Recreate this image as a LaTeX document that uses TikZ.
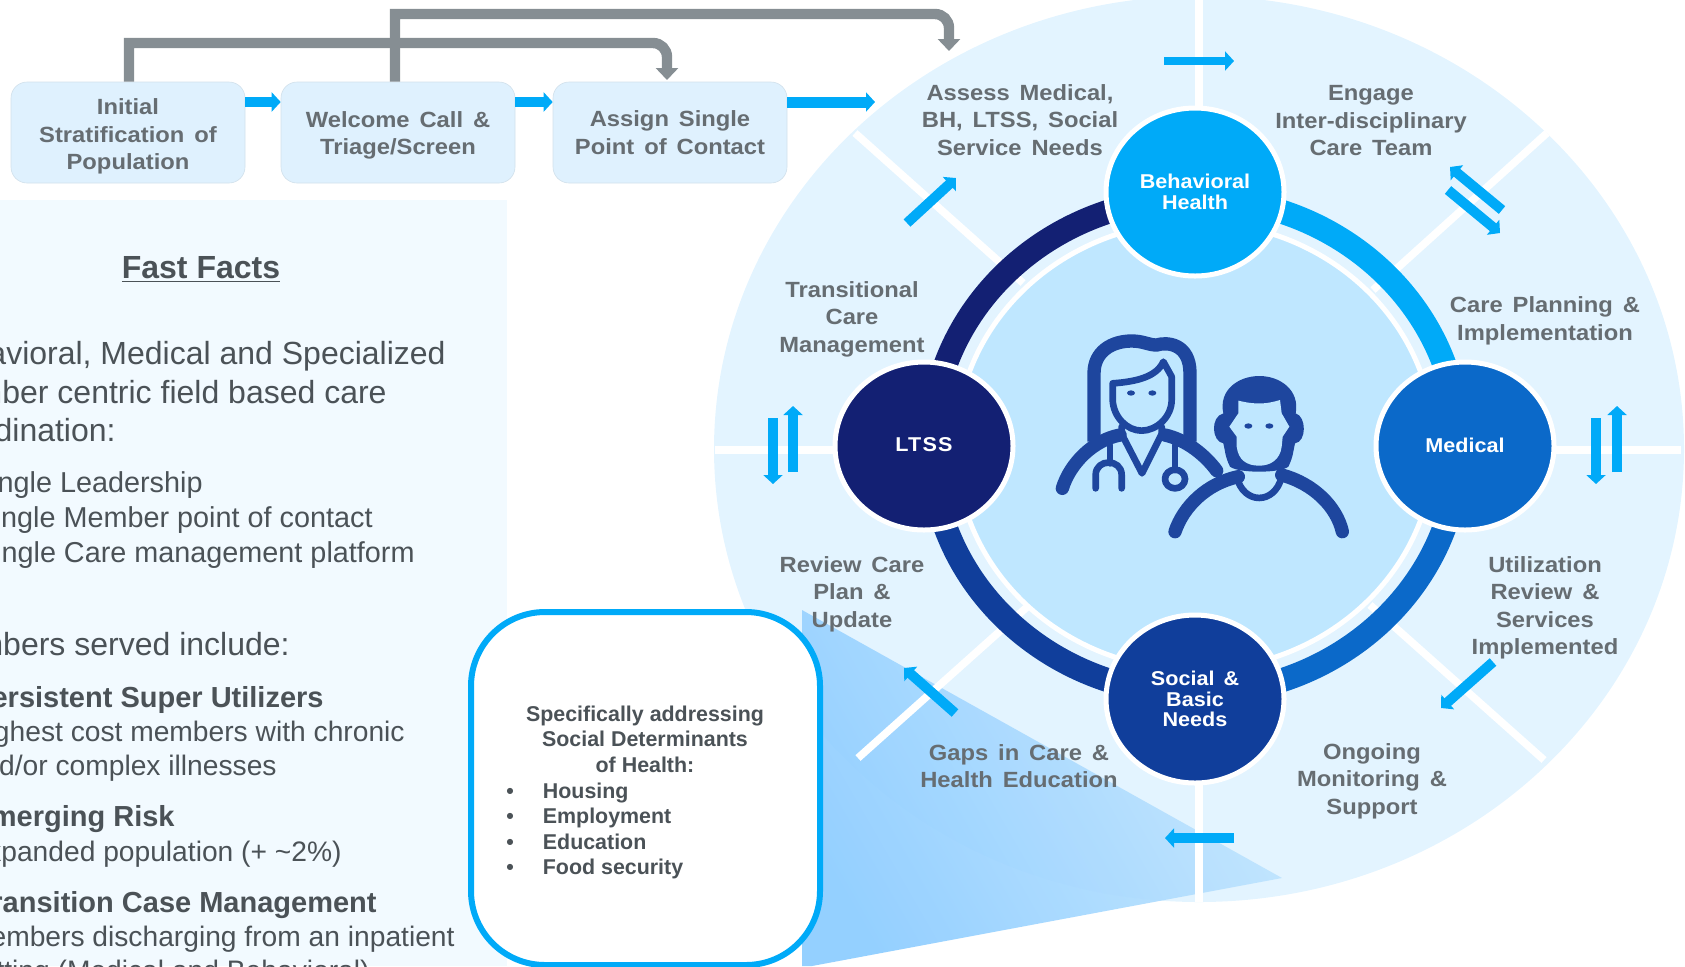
\documentclass[tikz,border=0pt]{standalone}
\usepackage{fontspec}
\setmainfont{Liberation Sans}
\newfontfamily\labfont[FakeStretch=1.08,WordSpace=1.5]{Liberation Sans}
\usetikzlibrary{shapes.geometric,arrows.meta}
\definecolor{sky}{HTML}{00AAF8}
\definecolor{pale}{HTML}{E3F4FF}
\definecolor{discblue}{HTML}{BFE7FF}
\definecolor{panelbg}{HTML}{F2FAFF}
\definecolor{flowbg}{HTML}{DFF1FE}
\definecolor{greyline}{HTML}{868E93}
\definecolor{labgrey}{HTML}{666D72}
\definecolor{bodygrey}{HTML}{4B5257}
\definecolor{navyc}{HTML}{132073}
\definecolor{royalc}{HTML}{103E9B}
\definecolor{medc}{HTML}{0B69C9}
\definecolor{iconc}{HTML}{1E469E}
\definecolor{wedgea}{HTML}{8CCCFF}
\definecolor{wedgeb}{HTML}{C6E7FE}
\tikzset{
  hub/.style={ellipse,draw=white,line width=2.5pt,minimum width=89pt,minimum height=84pt,inner sep=0pt,text=white,align=center,font=\labfont\bfseries\fontsize{10}{10.4}\selectfont},
  flowbox/.style={rectangle,rounded corners=8pt,fill=flowbg,draw=flowbg!85!gray,line width=.3pt,minimum width=117pt,minimum height=50.5pt,inner sep=0pt},
  lab/.style={align=center,inner sep=0pt,text=labgrey,font=\labfont\bfseries\fontsize{11}{13.75}\selectfont},
  spoke/.style={draw=white,line width=3.8pt},
  ringarc/.style={line width=12pt},
  blu/.style={draw=sky,line width=#1,-{Triangle[width=9.5pt,length=4.5pt]}},
  blu/.default=5pt,
  greyarrow/.style={draw=greyline,line width=5.2pt,-{Triangle[width=11pt,length=6pt]}},
  bigtxt/.style={anchor=base east,inner sep=0pt,text=bodygrey,font=\fontsize{16}{16}\selectfont},
  smalltxt/.style={anchor=base east,inner sep=0pt,text=bodygrey,font=\fontsize{14.1}{14.1}\selectfont},
  strongtxt/.style={anchor=base east,inner sep=0pt,text=bodygrey,font=\bfseries\fontsize{14.5}{14.5}\selectfont},
  notetxt/.style={inner sep=0pt,text=bodygrey,font=\bfseries\fontsize{10.7}{10.7}\selectfont},
  ic/.style={draw=iconc,line width=6.67pt,line cap=round,line join=round},
  icthin/.style={draw=iconc,line width=3.33pt,line cap=round,line join=round},
}
\begin{document}
\begin{tikzpicture}[x=0.5pt,y=-0.5pt]
\useasboundingbox (0,0) rectangle (1685,966);
% left panel
\fill[panelbg] (0,200) rectangle (507,966);
\node[anchor=base,inner sep=0pt,text=bodygrey,font=\bfseries\fontsize{16}{16}\selectfont] (title) at (201,278) {\underline{Fast Facts}};
\node[bigtxt] (t1) at (446,364) {avioral, Medical and Specialized};
\node[bigtxt] (t2) at (387,403) {mber centric field based care};
\node[bigtxt] (t3) at (116,441) {dination:};
\node[smalltxt,font=\fontsize{14.4}{14.4}\selectfont] (t4) at (203,492) {ngle Leadership};
\node[smalltxt,font=\fontsize{14.4}{14.4}\selectfont] (t5) at (373,527) {ngle Member point of contact};
\node[smalltxt,font=\fontsize{14.4}{14.4}\selectfont] (t6) at (415,562) {ngle Care management platform};
\node[bigtxt] (t7) at (290,655) {mbers served include:};
\node[strongtxt] (t8) at (324,707) {ersistent Super Utilizers};
\node[smalltxt] (t9) at (405,741) {ghest cost members with chronic};
\node[smalltxt] (t10) at (277,775) {d/or complex illnesses};
\node[strongtxt] (t11) at (175,826) {merging Risk};
\node[smalltxt] (t12) at (342,861) {xpanded population (+ \textasciitilde 2\%)};
\node[strongtxt] (t13) at (377,912) {ransition Case Management};
\node[smalltxt] (t14) at (455,946) {embers discharging from an inpatient};
\node[smalltxt] (t15) at (370,980) {etting (Medical and Behavioral)};
% wheel
\coordinate (wc) at (1199,449);
\coordinate (rc) at (1195,446);
\fill[pale] (wc) ellipse [x radius=485,y radius=453];
% callout wedge
\begin{scope}
\clip (802,610) -- (1282,878) -- (812,966) -- (802,966) -- cycle;
\shade[left color=wedgea,right color=wedgeb,shading angle=120,fill opacity=.93] (790,600) rectangle (1290,970);
\end{scope}
% spokes
\draw[spoke] (1199,-5) -- (1199,130);
\draw[spoke] (1199,760) -- (1199,902);
\draw[spoke] (715,450) -- (850,450);
\draw[spoke] (1540,450) -- (1681,450);
\draw[spoke] (855,133) -- (1023,283);
\draw[spoke] (1547,133) -- (1373,290);
\draw[spoke] (858,758) -- (1027,607);
\draw[spoke] (1544,760) -- (1370,605);
% inner disc
\draw[white,line width=2.5pt,fill=discblue] (rc) ellipse [x radius=239,y radius=224];
% ring arcs
\draw[ringarc,navyc] (931,446) arc [start angle=180,delta angle=90,x radius=264,y radius=248];
\draw[ringarc,sky] (1195,198) arc [start angle=270,delta angle=90,x radius=264,y radius=248];
\draw[ringarc,medc] (1459,446) arc [start angle=0,delta angle=90,x radius=264,y radius=248];
\draw[ringarc,royalc] (1195,694) arc [start angle=90,delta angle=90,x radius=264,y radius=248];
% hubs
\node[hub,fill=sky] (bh) at (1195,192) {Behavioral\\Health};
\node[hub,fill=medc] (med) at (1465,446) {\raisebox{1pt}{Medical}};
\node[hub,fill=navyc,font=\labfont\bfseries\addfontfeature{LetterSpace=6}\fontsize{10}{10.4}\selectfont] (ltss) at (924,446) {\raisebox{1pt}{LTSS}};
\node[hub,fill=royalc] (soc) at (1195,699) {Social \&\\Basic\\Needs};
% labels
\node[lab] (l1) at (1020,120) {Assess Medical,\\BH, LTSS, Social\\Service Needs};
\node[lab] (l2) at (1371,121) {Engage\\Inter-disciplinary\\Care Team};
\node[lab] (l3) at (1545,321) {Care Planning \&\\Implementation};
\node[lab] (l4) at (1545,608) {Utilization\\Review \&\\Services\\Implemented};
\node[lab] (l5) at (1372,781) {Ongoing\\Monitoring \&\\Support};
\node[lab] (l6) at (1019,766) {Gaps in Care \&\\Health Education};
\node[lab] (l7) at (852,594) {Review Care\\Plan \&\\Update};
\node[lab] (l8) at (852,319) {Transitional\\Care\\Management};
% wheel arrows
\draw[blu=4pt] (1164,61) -- (1234,61);
\draw[blu=5pt] (1234,838) -- (1165,838);
\draw[blu=5pt] (907,223) -- (956,178);
\draw[blu=5pt] (1502,210) -- (1450,167);
\draw[blu=5pt] (1448,190) -- (1500,233);
\draw[blu=5pt] (1596,418) -- (1596,484);
\draw[blu=5pt] (1617,472) -- (1617,406);
\draw[blu=5pt] (773,418) -- (773,484);
\draw[blu=5pt] (793,472) -- (793,406);
\draw[blu=5pt] (1493,662) -- (1441,708);
\draw[blu=5pt] (955,713) -- (904,668);
% flow boxes
\node[flowbox] (b1) at (128,132.5) {};
\node[flowbox] (b2) at (398,132.5) {};
\node[flowbox] (b3) at (670,132.5) {};
\node[lab] (b1t) at (128,136.5) {Initial\\Stratification of\\Population};
\node[lab] (b2t) at (398,135.5) {Welcome Call \&\\Triage/Screen};
\node[lab] (b3t) at (670,132.5) {Assign Single\\Point of Contact};
\coordinate (flowy) at (0,102);
\coordinate (flowend) at (875,102);
\draw[blu=5pt] (b1.east |- flowy) -- (b2.west |- flowy);
\draw[blu=5pt] (b2.east |- flowy) -- (b3.west |- flowy);
\draw[blu=5.5pt] (b3.east |- flowy) -- (flowend);
% grey connectors
\coordinate (g1) at (129,43);
\coordinate (g2) at (395,14);
\coordinate (g3) at (949,14);
\coordinate (g4) at (949,51);
\coordinate (g5) at (667,80);
\draw[greyarrow,rounded corners=0pt] (g1 |- b1.north) -- (g1) -- (640,43) [rounded corners=7pt] -- (g5 |- g1) -- (g5);
\draw[greyarrow,rounded corners=0pt] (g2 |- b2.north) -- (g2) -- (920,14) [rounded corners=7pt] -- (g3) -- (g4);
% callout box
\node[draw=sky,line width=3pt,fill=white,rounded corners=37pt,minimum width=174.5pt,minimum height=176.5pt,inner sep=0pt] (note) at (645.5,788.5) {};
\node[notetxt,anchor=base] (n1) at (645,721) {Specifically addressing};
\node[notetxt,anchor=base] (n2) at (645,746) {Social Determinants};
\node[notetxt,anchor=base] (n3) at (645,772) {of Health:};
\foreach \yy/\itemtxt in {798/Housing,823/Employment,849/Education,874/Food security}{
  \node[notetxt,anchor=base] at (510,\yy) {•};
  \node[notetxt,anchor=base west] at (542.5,\yy) {\itemtxt};
}
% icon
\begin{scope}[shift={(1030,310)},x=0.16667pt,y=-0.16667pt]
  % doctor
  \draw[ic,line cap=butt] (192,395) -- (192,190) .. controls (192,125) and (245,93) .. (305,93) .. controls (340,93) and (355,105) .. (380,105) .. controls (410,95) and (480,100) .. (480,190) -- (480,395);
  \draw[ic] (97,535) .. controls (120,460) and (190,390) .. (270,375);
  \draw[ic] (405,375) .. controls (470,390) and (525,435) .. (560,482);
  \draw[icthin] (248,220) -- (248,270) .. controls (250,320) and (290,362) .. (335,362) .. controls (380,362) and (425,320) .. (425,270) -- (425,200) -- (400,155) .. controls (380,200) and (320,215) .. (248,220) -- cycle;
  \fill[iconc] (303,249) ellipse [x radius=12,y radius=8];
  \fill[iconc] (367,249) ellipse [x radius=12,y radius=8];
  \draw[icthin] (275,350) -- (275,372) -- (336,490) -- (395,372) -- (395,350);
  \draw[icthin] (240,405) -- (240,460);
  \draw[icthin] (197,535) -- (197,495) .. controls (197,445) and (275,445) .. (275,495) -- (275,535);
  \draw[icthin] (435,405) -- (435,480);
  \draw[icthin] (435,507) ellipse [x radius=30,y radius=28];
  % man
  \fill[iconc] (600,470) .. controls (585,440) and (585,420) .. (580,400) .. controls (545,395) and (540,320) .. (580,310) .. controls (565,240) and (625,198) .. (688,198) .. controls (750,198) and (810,240) .. (797,310) .. controls (830,320) and (830,395) .. (795,400) .. controls (790,420) and (790,440) .. (775,470) .. controls (750,490) and (625,490) .. (600,470) -- cycle;
  \fill[discblue] (625,272) .. controls (680,285) and (710,282) .. (750,270) -- (755,310) -- (778,350) -- (758,380) -- (755,410) .. controls (750,450) and (720,467) .. (688,467) .. controls (650,467) and (625,450) .. (620,410) -- (620,380) -- (598,350) -- (625,310) -- cycle;
  \fill[iconc] (655,348) ellipse [x radius=12,y radius=8];
  \fill[iconc] (718,348) ellipse [x radius=12,y radius=8];
  \draw[ic] (435,665) .. controls (460,590) and (530,520) .. (625,500);
  \draw[ic] (755,495) .. controls (850,520) and (920,590) .. (937,665);
  \draw[icthin] (620,500) .. controls (640,585) and (735,585) .. (755,500);
\end{scope}
\end{tikzpicture}
\end{document}
